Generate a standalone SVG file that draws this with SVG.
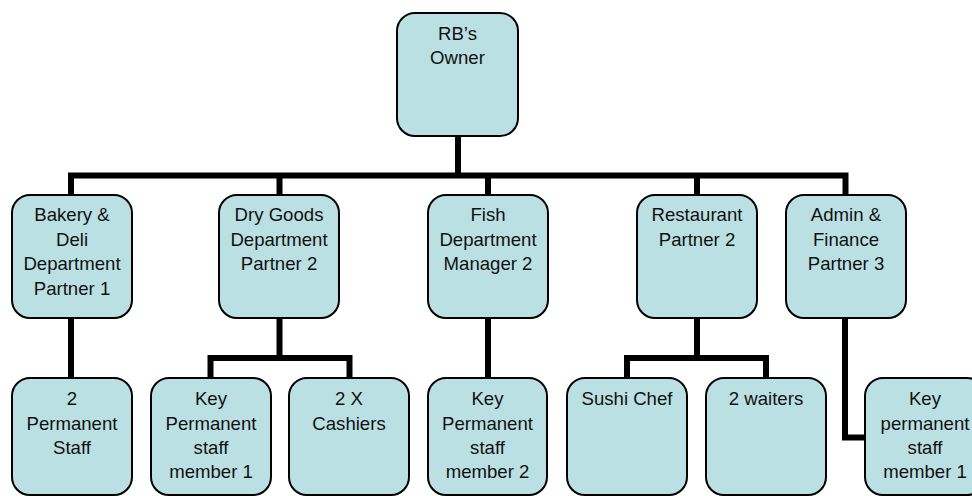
<svg xmlns="http://www.w3.org/2000/svg" width="972" height="496" viewBox="0 0 972 496">
  <style>
    .box { fill: #bbe0e3; stroke: #000; stroke-width: 2; }
    .lbl { font-family: "Liberation Sans", Arial, sans-serif; font-size: 18.6px; fill: #111; text-anchor: middle; }
    .wire { fill: none; stroke: #000; stroke-width: 6; stroke-linejoin: miter; stroke-linecap: butt; }
  </style>
  <rect width="972" height="496" fill="#fff"/>

  <!-- connectors -->
  <g id="connectors">
    <path class="wire" d="M458 136 V175.5"/>
    <path class="wire" d="M71 195 V175.5 H845.5 V195"/>
    <path class="wire" d="M279.5 175.5 V195"/>
    <path class="wire" d="M488 175.5 V195"/>
    <path class="wire" d="M697 175.5 V195"/>
    <!-- second level -->
    <path class="wire" d="M71 318 V378"/>
    <path class="wire" d="M279.5 318 V358"/>
    <path class="wire" d="M210.5 378 V358 H349.5 V378"/>
    <path class="wire" d="M488 318 V378"/>
    <path class="wire" d="M697 318 V358"/>
    <path class="wire" d="M627 378 V358 H766 V378"/>
    <path class="wire" d="M845 318 V437.5 H866"/>
  </g>

  <!-- top -->
  <g id="owner">
    <rect class="box" x="397" y="13" width="121" height="123" rx="18"/>
    <text class="lbl" x="457.5" y="40">RB’s</text>
    <text class="lbl" x="457.5" y="64">Owner</text>
  </g>

  <!-- departments -->
  <g id="bakery">
    <rect class="box" x="12" y="195" width="120" height="123" rx="18"/>
    <text class="lbl" x="72" y="221">Bakery &amp;</text>
    <text class="lbl" x="72" y="245.5">Deli</text>
    <text class="lbl" x="72" y="270">Department</text>
    <text class="lbl" x="72" y="294.5">Partner 1</text>
  </g>
  <g id="drygoods">
    <rect class="box" x="219" y="195" width="120" height="123" rx="18"/>
    <text class="lbl" x="279" y="221">Dry Goods</text>
    <text class="lbl" x="279" y="245.5">Department</text>
    <text class="lbl" x="279" y="270">Partner 2</text>
  </g>
  <g id="fish">
    <rect class="box" x="428" y="195" width="120" height="123" rx="18"/>
    <text class="lbl" x="488" y="221">Fish</text>
    <text class="lbl" x="488" y="245.5">Department</text>
    <text class="lbl" x="488" y="270">Manager 2</text>
  </g>
  <g id="restaurant">
    <rect class="box" x="637" y="195" width="120" height="123" rx="18"/>
    <text class="lbl" x="697" y="221">Restaurant</text>
    <text class="lbl" x="697" y="245.5">Partner 2</text>
  </g>
  <g id="admin">
    <rect class="box" x="786" y="195" width="120" height="123" rx="18"/>
    <text class="lbl" x="846" y="221">Admin &amp;</text>
    <text class="lbl" x="846" y="245.5">Finance</text>
    <text class="lbl" x="846" y="270">Partner 3</text>
  </g>

  <!-- staff -->
  <g id="bakery-staff">
    <rect class="box" x="12" y="378" width="120" height="117" rx="18"/>
    <text class="lbl" x="72" y="405">2</text>
    <text class="lbl" x="72" y="429.5">Permanent</text>
    <text class="lbl" x="72" y="454">Staff</text>
  </g>
  <g id="dry-key-staff">
    <rect class="box" x="151" y="378" width="120" height="117" rx="18"/>
    <text class="lbl" x="211" y="405">Key</text>
    <text class="lbl" x="211" y="429.5">Permanent</text>
    <text class="lbl" x="211" y="454">staff</text>
    <text class="lbl" x="211" y="478">member 1</text>
  </g>
  <g id="cashiers">
    <rect class="box" x="289" y="378" width="120" height="117" rx="18"/>
    <text class="lbl" x="349" y="405">2 X</text>
    <text class="lbl" x="349" y="429.5">Cashiers</text>
  </g>
  <g id="fish-key-staff">
    <rect class="box" x="428" y="378" width="119" height="117" rx="18"/>
    <text class="lbl" x="487.5" y="405">Key</text>
    <text class="lbl" x="487.5" y="429.5">Permanent</text>
    <text class="lbl" x="487.5" y="454">staff</text>
    <text class="lbl" x="487.5" y="478">member 2</text>
  </g>
  <g id="sushi-chef">
    <rect class="box" x="567" y="378" width="120" height="117" rx="18"/>
    <text class="lbl" x="627" y="405">Sushi Chef</text>
  </g>
  <g id="waiters">
    <rect class="box" x="706" y="378" width="120" height="117" rx="18"/>
    <text class="lbl" x="766" y="405">2 waiters</text>
  </g>
  <g id="admin-key-staff">
    <rect class="box" x="865" y="378" width="120" height="117" rx="18"/>
    <text class="lbl" x="925" y="405">Key</text>
    <text class="lbl" x="925" y="429.5">permanent</text>
    <text class="lbl" x="925" y="454">staff</text>
    <text class="lbl" x="925" y="478">member 1</text>
  </g>
</svg>
